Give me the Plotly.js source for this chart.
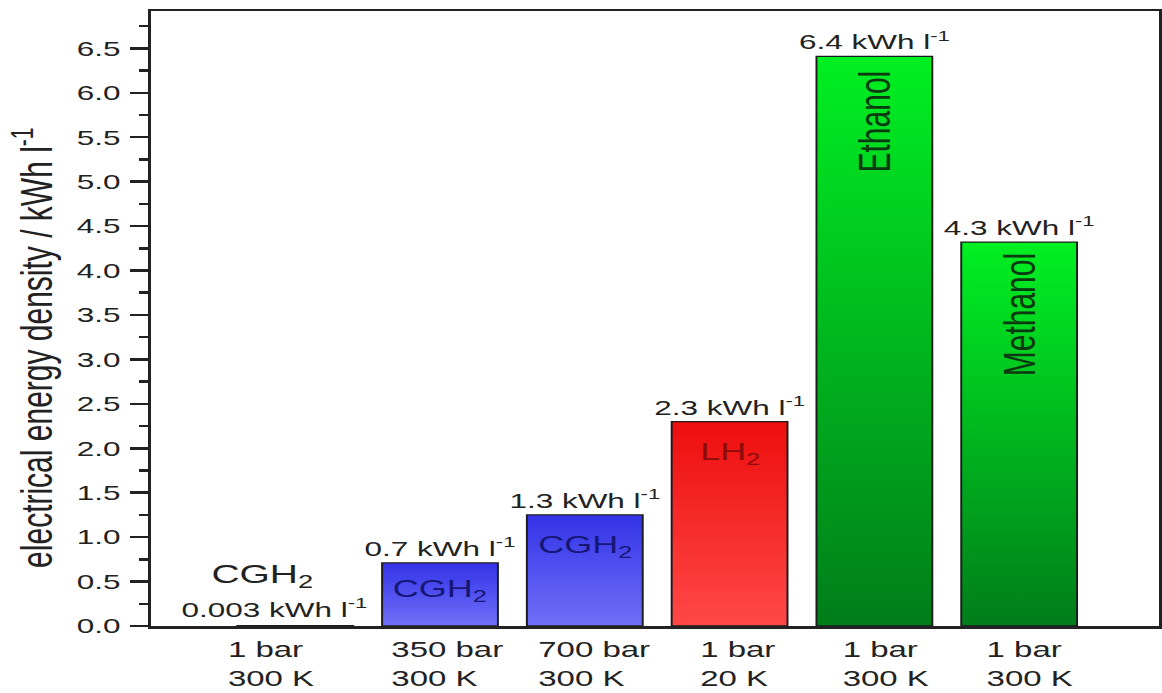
<!DOCTYPE html>
<html><head><meta charset="utf-8">
<script src="https://cdn.plot.ly/plotly-3.0.1.min.js"></script>
<style>
html,body{margin:0;padding:0;background:#fff;overflow:hidden;}
#wrap{width:1162px;height:693px;overflow:hidden;}
#chart{width:775px;height:693px;transform:scaleX(1.4994);transform-origin:0 0;}
</style></head><body>
<div id="wrap"><div id="chart"></div></div>
<script>
// ---- data ----
const categories = ['CGH2 1 bar 300 K', 'CGH2 350 bar 300 K', 'CGH2 700 bar 300 K', 'LH2 1 bar 20 K', 'Ethanol 1 bar 300 K', 'Methanol 1 bar 300 K'];
const tickLabels = ['1 bar<br>300 K', '350 bar<br>300 K', '700 bar<br>300 K', '1 bar<br>20 K', '1 bar<br>300 K', '1 bar<br>300 K'];
const values = [0.003, 0.71, 1.25, 2.3, 6.41, 4.32];
const valueLabels = ['0.003 kWh l<sup>-1</sup>', '0.7 kWh l<sup>-1</sup>', '1.3 kWh l<sup>-1</sup>', '2.3 kWh l<sup>-1</sup>', '6.4 kWh l<sup>-1</sup>', '4.3 kWh l<sup>-1</sup>'];
const innerLabels = ['CGH<sub>2</sub>', 'CGH<sub>2</sub>', 'CGH<sub>2</sub>', 'LH<sub>2</sub>', 'Ethanol', 'Methanol'];
const groups = ['blue', 'blue', 'blue', 'red', 'green', 'green'];

// ---- styles ----
const FONT = 'Liberation Sans, Arial, sans-serif';
const INK = '#222';
const gradients = {
  blue: ['#3333e8', '#7070f8'],
  red: ['#ee0e0e', '#ff4848'],
  green: ['#00f022', '#007d1a']
};
const flat = {blue: '#5252f0', red: '#ff2c2c', green: '#10b522'};
const innerColor = {blue: '#161677', red: '#8c0c0c', green: '#0c3a10'};
const innerStyle = {
  blue: {size: 24, angle: 0},
  red: {size: 24, angle: 0},
  green: {size: 30, angle: -90}
};
const innerShift = [0, -10, -14, -14, -12, -9];
const tickShift = [-16, 5, 6, 5, 8, 7];

const barText = valueLabels.map((t, i) => i === 0 ? '' : t);

const trace = {
  type: 'bar',
  x: categories,
  y: values,
  width: 0.8,
  marker: {
    color: groups.map(g => flat[g]),
    line: {color: '#1c1c1c', width: 1.3}
  },
  text: barText,
  textposition: 'outside',
  textfont: {family: FONT, size: 21, color: INK},
  constraintext: 'none',
  cliponaxis: false,
  hoverinfo: 'none'
};

const annotations = [];
// labels inside the bars
innerLabels.forEach((t, i) => {
  if (i === 0) return;
  const st = innerStyle[groups[i]];
  annotations.push({
    x: categories[i], y: values[i], xref: 'x', yref: 'y',
    text: t, showarrow: false, textangle: st.angle,
    xanchor: 'center', yanchor: 'top', yshift: innerShift[i],
    font: {family: FONT, size: st.size, color: innerColor[groups[i]]}
  });
});
// first bar: name and value above the (tiny) bar
annotations.push({
  x: categories[0], y: values[0], xref: 'x', yref: 'y',
  text: valueLabels[0], showarrow: false,
  xanchor: 'center', yanchor: 'bottom', xshift: -14, yshift: 3,
  font: {family: FONT, size: 21, color: INK}
});
annotations.push({
  x: categories[0], y: values[0], xref: 'x', yref: 'y',
  text: innerLabels[0], showarrow: false,
  xanchor: 'center', yanchor: 'bottom', xshift: -22, yshift: 32,
  font: {family: FONT, size: 26, color: INK}
});
// category tick labels
tickLabels.forEach((t, i) => {
  annotations.push({
    x: categories[i], y: 0, xref: 'x', yref: 'paper',
    text: t, showarrow: false, align: 'left',
    xanchor: 'center', yanchor: 'top', xshift: tickShift[i], yshift: -9,
    font: {family: FONT, size: 22, color: INK}
  });
});
// y axis title
annotations.push({
  x: -0.1176, y: 0.4537, xref: 'paper', yref: 'paper',
  text: 'electrical energy density / kWh l<sup>-1</sup>', showarrow: false,
  textangle: -90, xanchor: 'center', yanchor: 'middle',
  font: {family: FONT, size: 30, color: INK}
});

const layout = {
  width: 775, height: 693,
  margin: {l: 101, r: 2, t: 11, b: 67},
  paper_bgcolor: '#fff', plot_bgcolor: '#fff',
  showlegend: false,
  font: {family: FONT, color: INK},
  xaxis: {
    type: 'category', range: [-0.993, 5.966],
    showline: true, linecolor: INK, linewidth: 2.5, mirror: true,
    ticks: '', showticklabels: false, showgrid: false, zeroline: false, fixedrange: true
  },
  yaxis: {
    range: [0, 6.92],
    showline: true, linecolor: INK, linewidth: 2.5, mirror: true,
    ticks: 'outside', ticklen: 12, tickwidth: 2.5, tickcolor: INK,
    tick0: 0, dtick: 0.5, tickformat: '.1f',
    ticklabelstandoff: 2,
    tickfont: {family: FONT, size: 21, color: INK},
    minor: {dtick: 0.25, ticks: 'outside', ticklen: 6, tickwidth: 2.5, tickcolor: INK, showgrid: false},
    showgrid: false, zeroline: false, fixedrange: true
  },
  annotations: annotations
};

Plotly.newPlot('chart', [trace], layout, {displayModeBar: false, staticPlot: true}).then(gd => {
  const svg = gd.querySelector('.main-svg');
  const ns = 'http://www.w3.org/2000/svg';
  let defs = svg.querySelector('defs');
  if (!defs) { defs = document.createElementNS(ns, 'defs'); svg.insertBefore(defs, svg.firstChild); }
  Object.keys(gradients).forEach(k => {
    const lg = document.createElementNS(ns, 'linearGradient');
    lg.setAttribute('id', 'grad-' + k);
    lg.setAttribute('x1', '0'); lg.setAttribute('y1', '0');
    lg.setAttribute('x2', '0'); lg.setAttribute('y2', '1');
    gradients[k].forEach((c, j) => {
      const s = document.createElementNS(ns, 'stop');
      s.setAttribute('offset', j === 0 ? '0' : '1');
      s.setAttribute('stop-color', c);
      lg.appendChild(s);
    });
    defs.appendChild(lg);
  });
  const paths = gd.querySelectorAll('.barlayer .point path');
  paths.forEach((p, i) => { p.style.fill = 'url(#grad-' + groups[i] + ')'; });
});
</script>
</body></html>
